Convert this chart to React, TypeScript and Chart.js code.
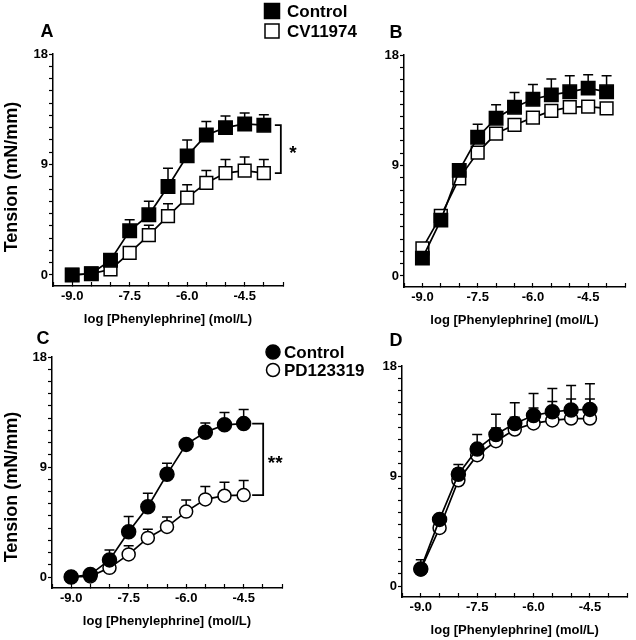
import React, { useEffect, useRef } from 'react';
import { Chart, registerables } from 'chart.js';

Chart.register(...registerables);

const FONT = '"Liberation Sans", Arial, Helvetica, sans-serif';
const W = 636;
const H = 640;

// ---------- data ----------
const xAB = [-9, -8.5, -8, -7.5, -7, -6.5, -6, -5.5, -5, -4.5, -4];
const xCD = [-9, -8.5, -8, -7.5, -7, -6.5, -6, -5.5, -5, -4.5];
const xTickLabelValues = [-9.0, -7.5, -6.0, -4.5];
const yTickLabelValues = [0, 9, 18];
const xTitle = 'log [Phenylephrine] (mol/L)';
const yTitle = 'Tension (mN/mm)';

// Panel A
const aControl = [0, 0.1, 1.2, 3.6, 4.9, 7.2, 9.7, 11.4, 12.0, 12.3, 12.2];
const aControlSem = [0, 0, 0, 0.9, 1.1, 1.5, 1.3, 1.1, 0.95, 0.9, 0.85];
const aCV = [0, 0.1, 0.45, 1.8, 3.25, 4.8, 6.3, 7.5, 8.3, 8.5, 8.3];
const aCVSem = [0, 0, 0, 0.5, 0.8, 1.0, 1.05, 1.0, 1.1, 1.1, 1.1];

// Panel B
const bControl = [1.45, 4.55, 8.6, 11.3, 12.85, 13.75, 14.4, 14.75, 15.0, 15.3, 15.0];
const bControlSem = [0, 0, 0.3, 1.05, 1.1, 1.2, 1.2, 1.3, 1.3, 1.1, 1.3];
const bCV = [2.25, 4.9, 7.95, 10.05, 11.6, 12.3, 12.9, 13.45, 13.75, 13.8, 13.65];
const bCVSem = [0, 0, 0, 0, 0, 0, 0, 0, 0, 0, 0];

// Panel C
const cControl = [0, 0.2, 1.4, 3.7, 5.75, 8.4, 10.85, 11.85, 12.45, 12.55];
const cControlSem = [0, 0, 0.8, 1.25, 1.1, 0.9, 0.3, 0.75, 1.0, 1.15];
const cPD = [0, 0.05, 0.75, 1.85, 3.2, 4.1, 5.35, 6.35, 6.65, 6.7];
const cPDSem = [0, 0, 0, 0.7, 0.7, 0.8, 0.95, 1.05, 1.1, 1.2];

// Panel D
const dControl = [1.4, 5.45, 9.15, 11.2, 12.4, 13.3, 13.95, 14.25, 14.4, 14.45];
const dControlSem = [0.75, 0, 0.8, 1.2, 1.65, 1.7, 1.8, 1.9, 2.0, 2.1];
const dPD = [1.35, 4.75, 8.65, 10.7, 11.85, 12.8, 13.3, 13.55, 13.7, 13.7];
const dPDSem = [0, 0, 0.95, 0.9, 1.08, 1.0, 1.26, 1.55, 1.6, 1.6];

type Series = {
  label: string;
  x: number[];
  y: number[];
  sem: number[];
  filled: boolean;
  shape: 'rect' | 'circle';
};

type PanelCfg = {
  letter: string;
  letterPos: [number, number];
  area: { left: number; top: number; right: number; bottom: number };
  series: Series[];
  yTitlePos?: [number, number];
  legend?: { mx: number; tx: number; ys: number[] };
  bracket?: { dx: number; tickDx: number; star: string };
};

const panels: PanelCfg[] = [
  {
    letter: 'A',
    letterPos: [47, 32],
    area: { left: 53, top: 54, right: 283, bottom: 286 },
    series: [
      { label: 'Control', x: xAB, y: aControl, sem: aControlSem, filled: true, shape: 'rect' },
      { label: 'CV11974', x: xAB, y: aCV, sem: aCVSem, filled: false, shape: 'rect' },
    ],
    yTitlePos: [12, 177],
    legend: { mx: 272, tx: 287, ys: [11, 31] },
    bracket: { dx: 17, tickDx: 11, star: '*' },
  },
  {
    letter: 'B',
    letterPos: [396, 33],
    area: { left: 404, top: 55, right: 633, bottom: 287 },
    series: [
      { label: 'Control', x: xAB, y: bControl, sem: bControlSem, filled: true, shape: 'rect' },
      { label: 'CV11974', x: xAB, y: bCV, sem: bCVSem, filled: false, shape: 'rect' },
    ],
  },
  {
    letter: 'C',
    letterPos: [43, 339],
    area: { left: 52, top: 357, right: 282, bottom: 588 },
    series: [
      { label: 'Control', x: xCD, y: cControl, sem: cControlSem, filled: true, shape: 'circle' },
      { label: 'PD123319', x: xCD, y: cPD, sem: cPDSem, filled: false, shape: 'circle' },
    ],
    yTitlePos: [12, 487],
    legend: { mx: 273, tx: 284, ys: [352, 370] },
    bracket: { dx: 19.5, tickDx: 8.5, star: '**' },
  },
  {
    letter: 'D',
    letterPos: [396, 341],
    area: { left: 402, top: 366, right: 631, bottom: 597 },
    series: [
      { label: 'Control', x: xCD, y: dControl, sem: dControlSem, filled: true, shape: 'circle' },
      { label: 'PD123319', x: xCD, y: dPD, sem: dPDSem, filled: false, shape: 'circle' },
    ],
  },
];

function drawMarker(ctx: CanvasRenderingContext2D, shape: string, filled: boolean, x: number, y: number) {
  ctx.save();
  ctx.lineWidth = 1.5;
  ctx.strokeStyle = '#000';
  ctx.fillStyle = filled ? '#000' : '#fff';
  ctx.beginPath();
  if (shape === 'rect') {
    const s = filled ? 7.5 : 7;
    ctx.rect(x - s, y - s, 2 * s, 2 * s);
  } else {
    ctx.arc(x, y, filled ? 7 : 6.5, 0, Math.PI * 2);
  }
  ctx.fill();
  ctx.stroke();
  ctx.restore();
}

function makeDecor(p: PanelCfg) {
  return {
    id: 'decor' + p.letter,
    beforeDatasetsDraw(chart: any) {
      const ctx = chart.ctx as CanvasRenderingContext2D;
      const xs = chart.scales.x;
      const ys = chart.scales.y;
      ctx.save();
      ctx.strokeStyle = '#000';
      ctx.lineWidth = 1.5;
      p.series.forEach((s) => {
        s.x.forEach((xv, i) => {
          const e = s.sem[i];
          if (!e) return;
          const px = xs.getPixelForValue(xv);
          const y0 = ys.getPixelForValue(s.y[i]);
          const y1 = ys.getPixelForValue(s.y[i] + e);
          ctx.beginPath();
          ctx.moveTo(px, y0);
          ctx.lineTo(px, y1);
          ctx.moveTo(px - 5, y1);
          ctx.lineTo(px + 5, y1);
          ctx.stroke();
        });
      });
      ctx.restore();
    },
    afterDraw(chart: any) {
      const ctx = chart.ctx as CanvasRenderingContext2D;
      const xs = chart.scales.x;
      const ys = chart.scales.y;
      ctx.save();
      ctx.fillStyle = '#000';
      // panel letter
      ctx.font = `bold 18px ${FONT}`;
      ctx.textAlign = 'center';
      ctx.textBaseline = 'middle';
      ctx.fillText(p.letter, p.letterPos[0], p.letterPos[1]);
      // y title
      if (p.yTitlePos) {
        ctx.save();
        ctx.translate(p.yTitlePos[0], p.yTitlePos[1]);
        ctx.rotate(-Math.PI / 2);
        ctx.font = `bold 18px ${FONT}`;
        ctx.textAlign = 'center';
        ctx.textBaseline = 'middle';
        ctx.fillText(yTitle, 0, 0);
        ctx.restore();
      }
      // legend
      if (p.legend) {
        const lg = p.legend;
        p.series.forEach((s, i) => {
          drawMarker(ctx, s.shape, s.filled, lg.mx, lg.ys[i]);
          ctx.fillStyle = '#000';
          ctx.font = `bold 17px ${FONT}`;
          ctx.textAlign = 'left';
          ctx.textBaseline = 'middle';
          ctx.fillText(s.label, lg.tx, lg.ys[i] + 1);
        });
      }
      // significance bracket
      if (p.bracket) {
        const b = p.bracket;
        const s0 = p.series[0];
        const s1 = p.series[1];
        const n = s0.x.length - 1;
        const lastX = xs.getPixelForValue(s0.x[n]);
        const yTop = ys.getPixelForValue(s0.y[n]);
        const yBot = ys.getPixelForValue(s1.y[n]);
        const bx = lastX + b.dx;
        const tx = lastX + b.tickDx;
        ctx.strokeStyle = '#000';
        ctx.lineWidth = 1.8;
        ctx.beginPath();
        ctx.moveTo(tx, yTop);
        ctx.lineTo(bx, yTop);
        ctx.lineTo(bx, yBot);
        ctx.lineTo(tx, yBot);
        ctx.stroke();
        ctx.font = `bold 19px ${FONT}`;
        ctx.textAlign = 'center';
        ctx.textBaseline = 'alphabetic';
        ctx.fillText(b.star, bx + 12, (yTop + yBot) / 2 + 10);
      }
      ctx.restore();
    },
  };
}

function buildChart(canvas: HTMLCanvasElement, p: PanelCfg) {
  const YW = 40;
  const XH = 41;
  const padding = {
    left: p.area.left - YW,
    top: p.area.top,
    right: W - p.area.right,
    bottom: H - p.area.bottom - XH,
  };
  const tickFont = { size: 13, weight: 'bold' as const, family: FONT };
  const datasets = p.series.map((s) => ({
    label: s.label,
    data: s.x.map((x, i) => ({ x, y: s.y[i] })),
    showLine: true,
    tension: 0,
    borderColor: '#000',
    borderWidth: 1.7,
    pointStyle: s.shape,
    pointRadius: s.shape === 'rect' ? (s.filled ? 9.5 : 9) : (s.filled ? 7 : 6.5),
    pointBackgroundColor: s.filled ? '#000' : '#fff',
    pointBorderColor: '#000',
    pointBorderWidth: 1.5,
    pointHoverRadius: 0,
  }));
  return new Chart(canvas, {
    type: 'line',
    data: { datasets },
    plugins: [makeDecor(p)],
    options: {
      responsive: false,
      animation: false,
      events: [],
      layout: { padding },
      plugins: { legend: { display: false }, tooltip: { enabled: false }, title: { display: false } },
      scales: {
        x: {
          type: 'linear',
          min: -9.5,
          max: -3.5,
          afterFit: (s: any) => {
            s.height = XH;
          },
          ticks: {
            stepSize: 0.5,
            autoSkip: false,
            maxRotation: 0,
            minRotation: 0,
            padding: 7,
            color: '#000',
            font: tickFont,
            callback: (v: any) =>
              xTickLabelValues.some((t) => Math.abs(t - Number(v)) < 1e-6) ? Number(v).toFixed(1) : '',
          },
          grid: { drawOnChartArea: false, tickLength: -4, tickColor: '#000', tickWidth: 1.2 },
          border: { color: '#000', width: 1.5 },
          title: {
            display: true,
            text: xTitle,
            color: '#000',
            padding: 0,
            font: { size: 13, weight: 'bold', family: FONT },
          },
        },
        y: {
          type: 'linear',
          min: -0.9,
          max: 18,
          afterFit: (s: any) => {
            s.width = YW;
          },
          afterBuildTicks: (s: any) => {
            s.ticks = s.ticks.filter((t: any) => t.value > -0.5 && Math.abs(t.value - Math.round(t.value)) < 1e-6);
          },
          ticks: {
            stepSize: 1,
            includeBounds: false,
            autoSkip: false,
            padding: 1,
            color: '#000',
            font: tickFont,
            callback: (v: any) => (yTickLabelValues.includes(Math.round(Number(v))) ? String(Math.round(Number(v))) : ''),
          },
          grid: { drawOnChartArea: false, tickLength: 4, tickColor: '#000', tickWidth: 1.2 },
          border: { color: '#000', width: 1.5 },
        },
      },
    } as any,
  });
}

function Panel({ cfg }: { cfg: PanelCfg }) {
  const ref = useRef<HTMLCanvasElement | null>(null);
  useEffect(() => {
    if (!ref.current) return;
    const chart = buildChart(ref.current, cfg);
    return () => chart.destroy();
  }, [cfg]);
  return (
    <canvas
      ref={ref}
      width={W}
      height={H}
      style={{ position: 'absolute', left: 0, top: 0, width: W, height: H }}
    />
  );
}

export default function App() {
  return (
    <div style={{ position: 'absolute', left: 0, top: 0, width: W, height: H, background: '#fff' }}>
      {panels.map((p) => (
        <Panel key={p.letter} cfg={p} />
      ))}
    </div>
  );
}
